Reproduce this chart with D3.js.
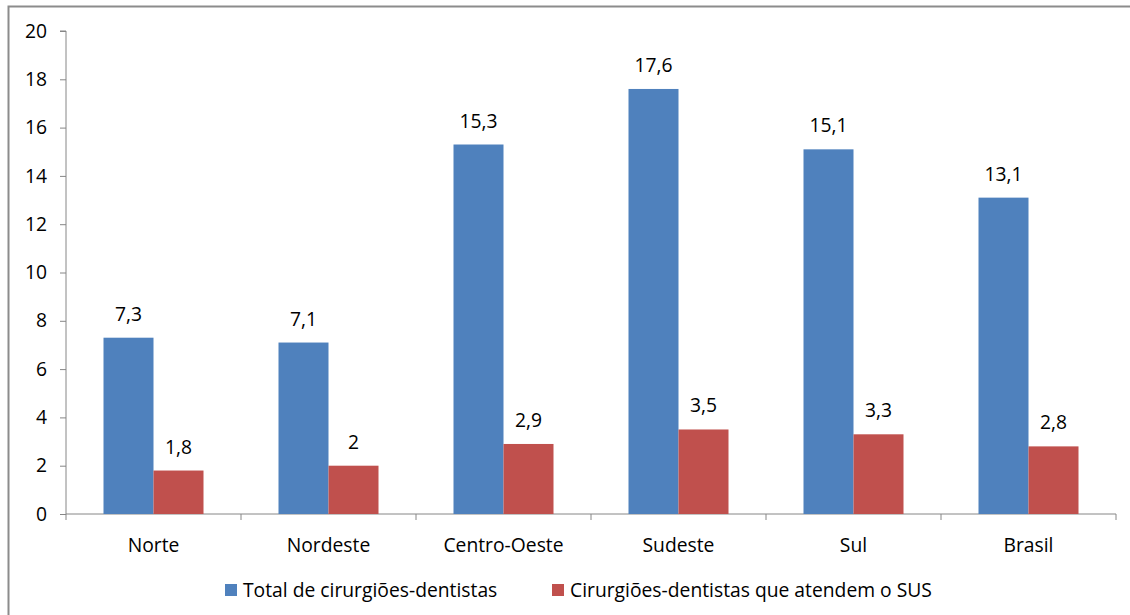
<!DOCTYPE html>
<html><head><meta charset="utf-8">
<script src="https://cdn.jsdelivr.net/npm/d3@7"></script>
<style>body{margin:0;background:#fff}svg{display:block}</style>
</head><body>
<script>
const categories = ["Norte","Nordeste","Centro-Oeste","Sudeste","Sul","Brasil"];
const totalValues = [7.3,7.1,15.3,17.6,15.1,13.1];
const susValues = [1.8,2,2.9,3.5,3.3,2.8];
const seriesNames = ["Total de cirurgiões-dentistas","Cirurgiões-dentistas que atendem o SUS"];
const seriesColors = ["#4f81bd","#c0504d"];
const yTicks = [0,2,4,6,8,10,12,14,16,18,20];

const W=1130,H=615;
const svg=d3.select("body").append("svg").attr("width",W).attr("height",H);
const font="'Open Sans', sans-serif";
const fs=19.3;
svg.append("rect").attr("x",8.5).attr("y",6.5).attr("width",1130).attr("height",620)
  .attr("fill","none").attr("stroke","#8c8c8c").attr("stroke-width",2);

const x=d3.scaleBand().domain(categories).range([66,1116]);
const y=d3.scaleLinear().domain([0,20]).range([514,31]);
const xs=d3.scaleBand().domain([0,1]).range([0,x.bandwidth()]).paddingOuter(0.75);

// y axis
const ya=svg.append("g").attr("transform","translate(66,0)")
  .call(d3.axisLeft(y).tickValues(yTicks).tickSize(6).tickPadding(13).tickFormat(d=>d));
ya.selectAll("path,line").attr("stroke","#868686");
ya.select("path").attr("d","M0,31H-6M0,31V514");
ya.selectAll("text").attr("font-family",font).attr("font-size",fs).attr("fill","#000");

// x axis
const xa=svg.append("g").attr("transform","translate(0,514)");
xa.append("line").attr("x1",66).attr("x2",1116).attr("y1",0).attr("y2",0).attr("stroke","#868686");
const bounds=categories.map(c=>x(c)).concat([x.range()[1]]);
xa.selectAll("line.t").data(bounds).enter().append("line")
  .attr("x1",d=>d).attr("x2",d=>d).attr("y1",0).attr("y2",6).attr("stroke","#868686");
xa.selectAll("text").data(categories).enter().append("text")
  .attr("x",d=>x(d)+x.bandwidth()/2).attr("y",38).attr("text-anchor","middle")
  .attr("font-family",font).attr("font-size",fs).text(d=>d);

const series=[totalValues,susValues];
series.forEach((vals,si)=>{
  const g=svg.append("g");
  g.selectAll("rect").data(vals).enter().append("rect")
    .attr("x",(d,i)=>x(categories[i])+xs(si)).attr("width",xs.bandwidth())
    .attr("y",d=>y(d)).attr("height",d=>y(0)-y(d)).attr("fill",seriesColors[si]);
  g.selectAll("text").data(vals).enter().append("text")
    .attr("x",(d,i)=>x(categories[i])+xs(si)+xs.bandwidth()/2).attr("y",d=>y(d)-17)
    .attr("text-anchor","middle").attr("font-family",font).attr("font-size",fs)
    .text(d=>String(d).replace(".",","));
});

// legend
const legX=[225,552];
seriesNames.forEach((n,i)=>{
  svg.append("rect").attr("x",legX[i]).attr("y",584).attr("width",12).attr("height",12).attr("fill",seriesColors[i]);
  svg.append("text").attr("x",legX[i]+18).attr("y",597).attr("font-family",font).attr("font-size",fs).text(n);
});
</script>
</body></html>
